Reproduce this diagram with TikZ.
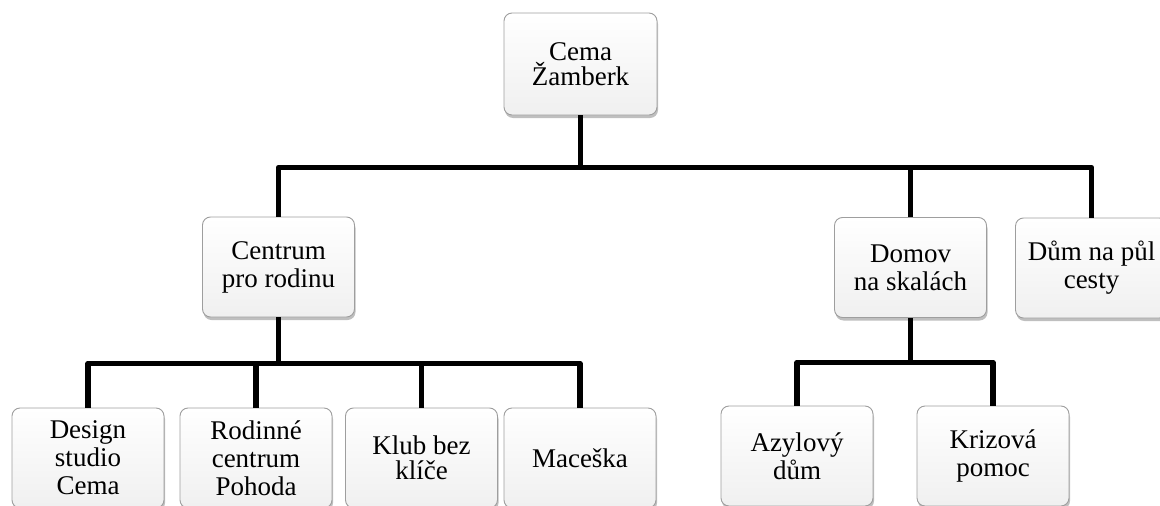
\documentclass[tikz,border=0pt]{standalone}
\usepackage{fontspec}
\setmainfont{Liberation Serif}
\usetikzlibrary{shadows}

\tikzset{
    unit/.style={rectangle, rounded corners=8pt, draw=black!38, line width=0.9pt,
        top color=white, bottom color=black!6,
        drop shadow={shadow xshift=1pt, shadow yshift=-3pt, opacity=0.25, fill=black},
        minimum width=152pt, minimum height=100pt, align=center,
        font=\fontsize{27}{28}\selectfont},
    conn/.style={line width=5.5pt, line join=round}
}

\begin{document}
\begin{tikzpicture}[x=1pt, y=-1pt]

    \useasboundingbox (0,0) rectangle (1160,506);

    %nodes
    \node[unit, minimum width=153pt, minimum height=102pt, font=\fontsize{27}{24.5}\selectfont] (root) at (580.5,64) {Cema\\Žamberk};

    \node[unit] (centrum) at (278.5,267) {Centrum\\pro rodinu};
    \node[unit] (domov) at (910.5,267.5) {Domov\\na skalách};
    \node[unit] (pulcesty) at (1091.5,268) {Dům na půl\\cesty};

    \node[unit] (design) at (88,458) {Design\\studio\\Cema};
    \node[unit] (rodinne) at (256,458) {Rodinné\\centrum\\Pohoda};
    \node[unit, font=\fontsize{27}{25.5}\selectfont] (klub) at (421.5,458) {Klub bez\\klíče};
    \node[unit] (maceska) at (580,458) {Maceška};

    \node[unit] (azyl) at (797,456) {Azylový\\dům};
    \node[unit] (krize) at (993,456) {Krizová\\pomoc};

    %lines
    \draw [conn] (root.south) -- ++(0,52) coordinate (hub1);
    \foreach \n in {centrum,domov,pulcesty}
        \draw [conn] (\n.north) |- (hub1);

    \draw [conn] (centrum.south) -- ++(0,46) coordinate (hub2);
    \foreach \n in {design,rodinne,klub,maceska}
        \draw [conn] (\n.north) |- (hub2);

    \draw [conn] (domov.south) -- ++(0,44.5) coordinate (hub3);
    \foreach \n in {azyl,krize}
        \draw [conn] (\n.north) |- (hub3);

\end{tikzpicture}
\end{document}
